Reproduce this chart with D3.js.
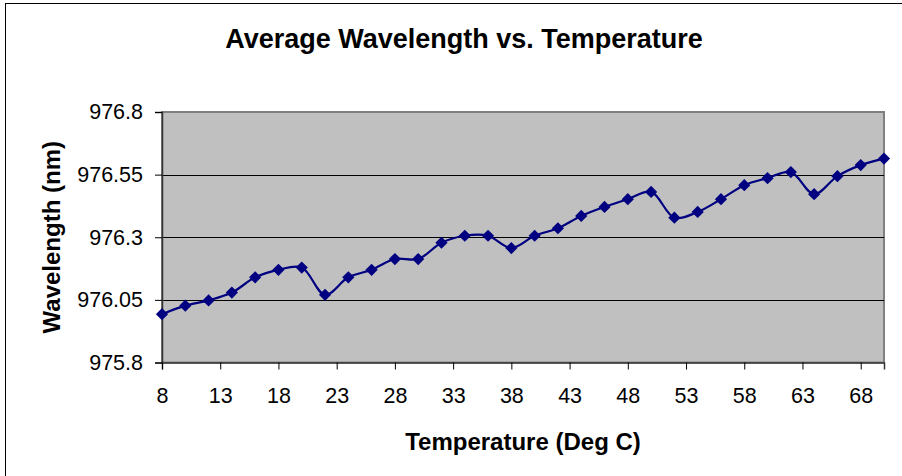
<!DOCTYPE html>
<html>
<head>
<meta charset="utf-8">
<script src="https://cdn.jsdelivr.net/npm/d3@7"></script>
<style>
  html, body { margin: 0; padding: 0; background: #fff; }
  svg { display: block; }
  text { font-family: "Liberation Sans", Arial, sans-serif; fill: #000; }
</style>
</head>
<body>
<svg id="chart" width="902" height="476"></svg>
<script>
// ---- Data ----
const temperatures = [8,10,12,14,16,18,20,22,24,26,28,30,32,34,36,38,40,42,44,46,48,50,52,54,56,58,60,62,64,66,68,70];
const wavelengths = [975.993,976.027,976.048,976.079,976.140,976.170,976.179,976.070,976.140,976.170,976.213,
                     976.213,976.278,976.306,976.306,976.257,976.306,976.336,976.385,976.421,976.452,
                     976.481,976.378,976.401,976.452,976.508,976.536,976.560,976.472,976.544,976.588,976.614];
const xTickValues = [8,13,18,23,28,33,38,43,48,53,58,63,68];
const yTickValues = [975.8,976.05,976.3,976.55,976.8];
const chartTitle = "Average Wavelength vs. Temperature";
const xTitle = "Temperature (Deg C)";
const yTitle = "Wavelength (nm)";

// ---- Layout ----
const svg = d3.select("#chart");
const plot = { left: 162, right: 884, top: 112, bottom: 362.5 };

// chart border
svg.append("rect").attr("x", 5.5).attr("y", 3.5).attr("width", 920).attr("height", 500)
  .attr("fill", "#fff").attr("stroke", "#000").attr("stroke-width", 1);

const x = d3.scaleLinear().domain([8, 70]).range([plot.left, plot.right]);
const y = d3.scaleLinear().domain([975.8, 976.8]).range([plot.bottom, plot.top]);

// plot area background
svg.append("rect")
  .attr("x", plot.left).attr("y", plot.top)
  .attr("width", plot.right - plot.left).attr("height", plot.bottom - plot.top)
  .attr("fill", "#C0C0C0").attr("stroke", "#808080").attr("stroke-width", 2);

// gridlines
svg.append("g").selectAll("line").data(yTickValues.slice(1, -1)).join("line")
  .attr("x1", plot.left).attr("x2", plot.right)
  .attr("y1", d => Math.round(y(d)) + 0.5).attr("y2", d => Math.round(y(d)) + 0.5)
  .attr("stroke", "#000").attr("stroke-width", 1.2);

// y axis
const yAxis = d3.axisLeft(y).tickValues(yTickValues).tickSize(7).tickPadding(12)
  .tickFormat(d => String(+d.toFixed(2)));
const gy = svg.append("g").attr("transform", `translate(${plot.left},0)`).call(yAxis);
gy.select(".domain").attr("stroke", "#333").attr("stroke-width", 1.5);
gy.selectAll(".tick line").attr("stroke", "#000");
gy.selectAll(".tick text").style("font-size", "21.5px").attr("fill", "#000")
  .style("font-family", '"Liberation Sans", Arial, sans-serif');

// x axis
const xAxis = d3.axisBottom(x).tickValues(xTickValues).tickSize(7).tickPadding(18)
  .tickFormat(d3.format("d"));
const gx = svg.append("g").attr("transform", `translate(0,${plot.bottom})`).call(xAxis);
gx.select(".domain").attr("stroke", "#333").attr("stroke-width", 1.5);
gx.selectAll(".tick line").attr("stroke", "#000");
gx.selectAll(".tick text").style("font-size", "21.5px").attr("fill", "#000")
  .style("font-family", '"Liberation Sans", Arial, sans-serif');

// line
const data = temperatures.map((t, i) => ({ t, w: wavelengths[i] }));
const line = d3.line().x(d => x(d.t)).y(d => y(d.w)).curve(d3.curveCatmullRom.alpha(0.5));
svg.append("path").datum(data).attr("d", line)
  .attr("fill", "none").attr("stroke", "#000080").attr("stroke-width", 2.2);

// markers
const sym = d3.symbol().type(d3.symbolDiamond2).size(95);
svg.append("g").selectAll("path").data(data).join("path")
  .attr("transform", d => `translate(${x(d.t)},${y(d.w)})`)
  .attr("d", sym)
  .attr("fill", "#000080");

// titles
svg.append("text").attr("x", 464).attr("y", 48).attr("text-anchor", "middle")
  .style("font-size", "27px").style("font-weight", "bold").text(chartTitle);
svg.append("text").attr("x", (plot.left + plot.right) / 2).attr("y", 450).attr("text-anchor", "middle")
  .style("font-size", "24px").style("font-weight", "bold").text(xTitle);
svg.append("text").attr("transform", `translate(60,${(plot.top + plot.bottom) / 2}) rotate(-90)`)
  .attr("text-anchor", "middle")
  .style("font-size", "24px").style("font-weight", "bold").text(yTitle);
</script>
</body>
</html>
